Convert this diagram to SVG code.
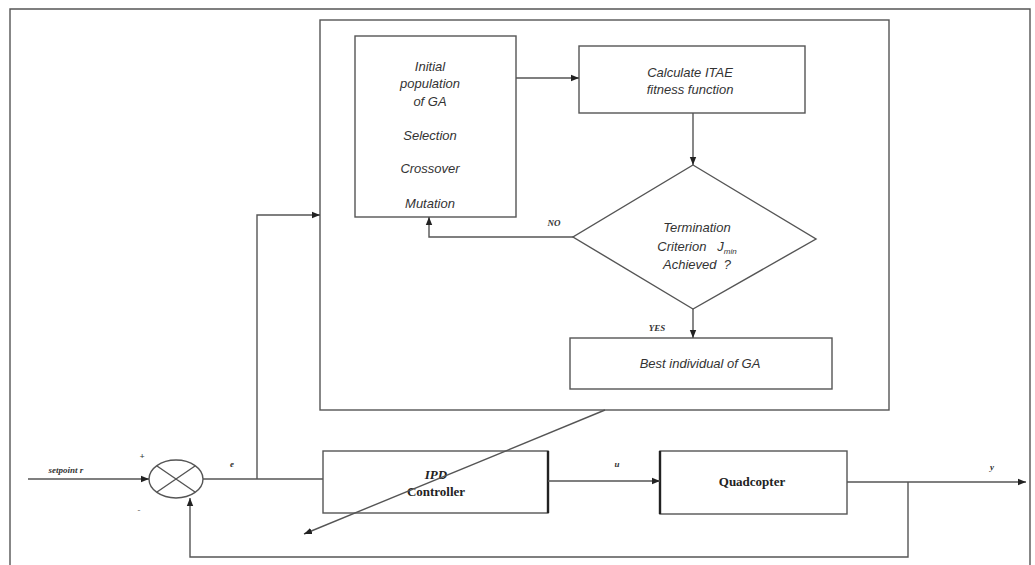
<svg xmlns="http://www.w3.org/2000/svg" width="1035" height="565" viewBox="0 0 1035 565">
<defs>
<style>
.ln{fill:none;stroke:#555;stroke-width:1.4}
.bx{fill:#fff;stroke:#555;stroke-width:1.4}
.ft{font-family:"Liberation Sans",Arial,sans-serif;font-style:italic;font-size:13px;fill:#333;text-anchor:middle}
.bt{font-family:"Liberation Serif","Times New Roman",serif;font-weight:bold;font-size:13px;fill:#222;text-anchor:middle}
.sm{font-family:"Liberation Serif","Times New Roman",serif;font-weight:bold;font-style:italic;font-size:9px;fill:#333;text-anchor:middle}
</style>
<marker id="ah" viewBox="0 0 10 10" refX="10" refY="5" markerWidth="8" markerHeight="8" markerUnits="userSpaceOnUse" orient="auto">
<path d="M0,1 L10,5 L0,9 Z" fill="#222"/>
</marker>
</defs>
<rect x="0" y="0" width="1035" height="565" fill="#fff"/>
<g id="frame"><path class="ln" d="M10,570 V9 H1030 V570"/></g>
<g id="ga-box"><rect class="bx" x="320" y="20" width="569" height="390"/></g>
<g id="init">
<rect class="bx" x="355" y="36" width="161" height="181"/>
<text class="ft" x="430" y="71">Initial</text>
<text class="ft" x="430" y="88">population</text>
<text class="ft" x="430" y="106">of GA</text>
<text class="ft" x="430" y="140">Selection</text>
<text class="ft" x="430" y="173">Crossover</text>
<text class="ft" x="430" y="208">Mutation</text>
</g>
<g id="calc">
<rect class="bx" x="579" y="46" width="226" height="67"/>
<text class="ft" x="690" y="77">Calculate ITAE</text>
<text class="ft" x="690" y="94">fitness function</text>
</g>
<g id="decision">
<polygon class="bx" points="693,165 816,239 693,309 573,237"/>
<text class="ft" x="697" y="232">Termination</text>
<text class="ft" x="697" y="251">Criterion&#160;&#160;&#160;J<tspan font-size="8" dy="3">min</tspan></text>
<text class="ft" x="697" y="269">Achieved&#160;&#160;?</text>
</g>
<g id="best">
<rect class="bx" x="570" y="338" width="262" height="51"/>
<text class="ft" x="700" y="368">Best individual of GA</text>
</g>
<g id="sum">
<ellipse class="bx" cx="176" cy="479" rx="27" ry="19"/>
<path class="ln" d="M157,466 L195,492 M195,466 L157,492"/>
</g>
<g id="ipd">
<rect class="bx" x="323" y="451" width="225" height="62"/>
<path d="M548,451 V513" stroke="#222" stroke-width="2.4"/>
<text class="bt" x="436" y="479" font-style="italic">IPD</text>
<text class="bt" x="436" y="496">Controller</text>
</g>
<g id="quad">
<rect class="bx" x="660" y="451" width="187" height="63"/>
<path d="M660,451 V514" stroke="#222" stroke-width="2.4"/>
<text class="bt" x="752" y="486">Quadcopter</text>
</g>
<g id="connectors">
<path class="ln" d="M516,78 H579" marker-end="url(#ah)"/>
<path class="ln" d="M693,113 V165" marker-end="url(#ah)"/>
<path class="ln" d="M573,237 H429 V217" marker-end="url(#ah)"/>
<path class="ln" d="M693,309 V338" marker-end="url(#ah)" stroke="#222" stroke-width="1.8"/>
<path class="ln" d="M28,479 H149" marker-end="url(#ah)"/>
<path class="ln" d="M203,479 H323"/>
<path class="ln" d="M257,479 V215 H320" marker-end="url(#ah)"/>
<path class="ln" d="M548,481 H660" marker-end="url(#ah)"/>
<path class="ln" d="M847,482 H1026" marker-end="url(#ah)"/>
<path class="ln" d="M908,482 V557 H190 V498" marker-end="url(#ah)"/>
<path class="ln" d="M605,410 L304,534" marker-end="url(#ah)"/>
</g>
<g id="labels">
<text class="sm" x="554" y="226">NO</text>
<text class="sm" x="657" y="331">YES</text>
<text class="sm" x="66" y="473" font-style="normal">setpoint r</text>
<text class="sm" x="142" y="459" font-size="11" font-style="normal">+</text>
<text class="sm" x="139" y="513" font-size="11" font-style="normal">-</text>
<text class="sm" x="232" y="467">e</text>
<text class="sm" x="617" y="467">u</text>
<text class="sm" x="992" y="470">y</text>
</g>
</svg>
